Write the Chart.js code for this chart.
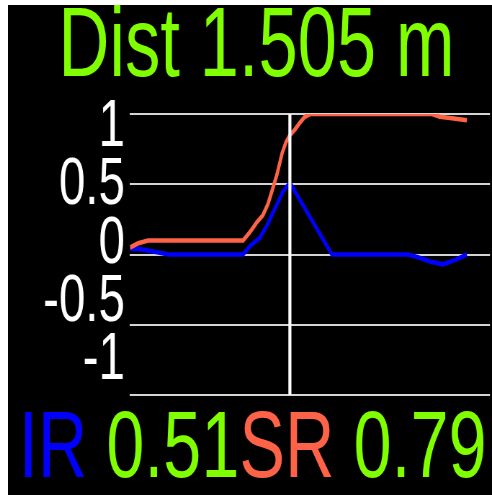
<!DOCTYPE html>
<html>
<head>
<meta charset="utf-8">
<script src="https://cdn.jsdelivr.net/npm/chart.js@4"></script>
<style>
html, body { margin: 0; padding: 0; background: #fff; width: 492px; height: 495px; overflow: hidden; }
#c { position: absolute; left: 8px; top: 5px; background: #000; }
</style>
</head>
<body>
<!-- drawn at 672 px wide and shown at 484 px: the display font is a tall, narrow one -->
<canvas id="c" width="672" height="490" style="width:484px;height:490px"></canvas>
<script>
// ---- data ----
const titleText = 'Dist 1.505 m';
const xSR = [0, 2.7, 6, 37.7, 40, 42.3, 44.3, 46, 47.3, 49, 50.7, 52, 53.3, 55, 56.7, 58.3, 60, 100.7, 103.3, 107.3, 112.3];
const ySR = [0.05, 0.08, 0.10, 0.10, 0.16, 0.23, 0.28, 0.36, 0.45, 0.57, 0.72, 0.80, 0.85, 0.89, 0.94, 0.98, 1.0, 1.0, 0.98, 0.97, 0.955];
const xIR = [0, 2.7, 8.3, 12.7, 37.7, 40, 43.3, 46, 47.7, 49.3, 51, 53.3, 67.3, 92.7, 96, 100, 104.3, 108.3, 112.3];
const yIR = [0.04, 0.04, 0.02, 0.0, 0.0, 0.06, 0.12, 0.22, 0.30, 0.37, 0.45, 0.51, 0.0, 0.0, -0.02, -0.05, -0.07, -0.04, 0.0];
const cursorX = 53.3;
const yGridTicks = [-1, -0.5, 0, 0.5, 1];
const yTickLabels = ['-1', '-0.5', '0', '0.5', '1'];
const sensorNames = ['IR', 'SR'];
const sensorReadings = ['0.51', '0.79'];

// ---- style ----
const FONT = "'Liberation Sans', Arial, sans-serif";
const GREEN = '#80ff00';
const IR_COLOR = '#0000ff';
const SR_COLOR = '#ff6347';
const TITLE_SIZE = 98;
const TICK_SIZE = 66;
const READOUT_SIZE = 95;
const READOUT_LEFT = 15;
const READOUT_BASELINE = 82;

const toPts = (xs, ys) => xs.map((x, i) => ({ x: x, y: ys[i] }));

const readoutPlugin = {
  id: 'readout',
  afterDraw(chart) {
    const ctx = chart.ctx;
    const colors = [IR_COLOR, SR_COLOR];
    const segments = [];
    sensorNames.forEach((n, i) => {
      segments.push({ text: n, color: colors[i] });
      segments.push({ text: ' ' + sensorReadings[i], color: GREEN });
    });
    ctx.save();
    ctx.font = READOUT_SIZE + 'px ' + FONT;
    ctx.textAlign = 'left';
    ctx.textBaseline = 'alphabetic';
    let x = READOUT_LEFT;
    const y = chart.chartArea.bottom + READOUT_BASELINE;
    segments.forEach(seg => {
      ctx.fillStyle = seg.color;
      ctx.fillText(seg.text, x, y);
      x += ctx.measureText(seg.text).width;
    });
    ctx.restore();
  }
};

new Chart(document.getElementById('c'), {
  type: 'line',
  data: {
    datasets: [
      {
        label: 'cursor',
        data: [{ x: cursorX, y: -1 }, { x: cursorX, y: 1 }],
        borderColor: '#ffffff',
        borderWidth: 4.2,
        pointRadius: 0
      },
      {
        label: sensorNames[1],
        data: toPts(xSR, ySR),
        borderColor: SR_COLOR,
        borderWidth: 4.6,
        pointRadius: 0,
        tension: 0
      },
      {
        label: sensorNames[0],
        data: toPts(xIR, yIR),
        borderColor: IR_COLOR,
        borderWidth: 4.6,
        pointRadius: 0,
        tension: 0
      }
    ]
  },
  options: {
    responsive: false,
    animation: false,
    devicePixelRatio: 1,
    events: [],
    layout: { padding: { left: 20.8, right: 2.8, top: 0, bottom: 100 } },
    scales: {
      x: { type: 'linear', min: 0, max: 120, display: false },
      y: {
        type: 'linear', position: 'left', min: -1, max: 1,
        afterBuildTicks: (axis) => { axis.ticks = yGridTicks.map(v => ({ value: v })); },
        ticks: { display: false },
        grid: { color: '#d4d4d4', lineWidth: 2, drawTicks: false },
        border: { display: false }
      },
      yl: {
        type: 'linear', position: 'left', min: -1.2918, max: 1.1202,
        afterBuildTicks: (axis) => { axis.ticks = yGridTicks.map(v => ({ value: v })); },
        afterFit: (axis) => { axis.width = 148.6; },
        ticks: {
          color: '#ffffff',
          font: { family: FONT, size: TICK_SIZE },
          padding: 7,
          autoSkip: false,
          maxRotation: 0,
          callback: (v, i) => yTickLabels[i]
        },
        grid: { display: false, drawTicks: false },
        border: { display: false }
      }
    },
    plugins: {
      title: {
        display: true,
        text: titleText,
        color: GREEN,
        font: { family: FONT, size: TITLE_SIZE, lineHeight: 0.89, weight: 'normal' },
        padding: { top: 0, bottom: 109 - TITLE_SIZE * 0.89 }
      },
      legend: { display: false },
      tooltip: { enabled: false }
    }
  },
  plugins: [readoutPlugin]
});
</script>
</body>
</html>
